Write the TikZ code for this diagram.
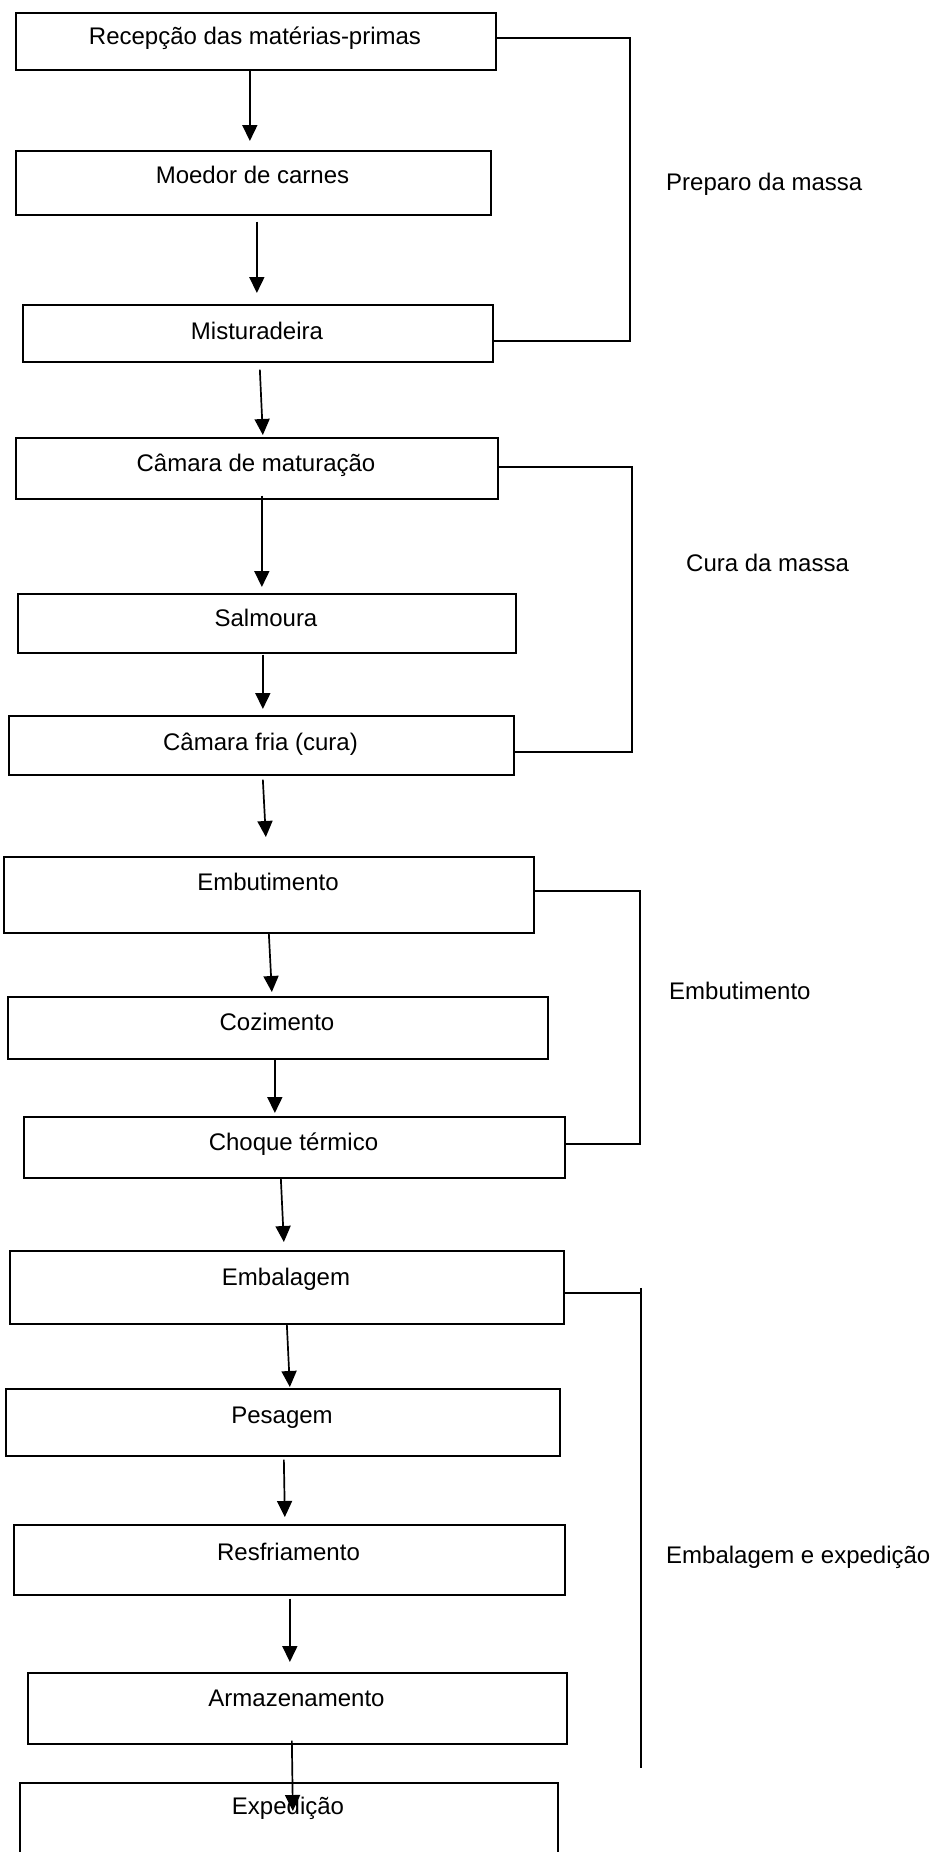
\documentclass[tikz,border=0pt]{standalone}
\usepackage{fontspec}
\setmainfont{Liberation Sans}
\usetikzlibrary{arrows.meta}
\begin{document}
\begin{tikzpicture}[x=1pt,y=-1pt,
  box/.style={draw, line width=1.7pt, anchor=north west, inner sep=0pt, fill=white},
  txt/.style={anchor=base, inner sep=0pt, font=\fontsize{24}{28}\selectfont},
  lbl/.style={anchor=base west, inner sep=0pt, font=\fontsize{24}{28}\selectfont},
  arr/.style={line width=1.7pt, -{Triangle[length=16pt,width=15pt]}},
  brk/.style={line width=1.6pt}]
\useasboundingbox (0,0) rectangle (933,1852);
\clip (0,0) rectangle (933,1852);
% boxes
\node[box, minimum width=480pt, minimum height=57pt] (b1) at (15,12) {};
\node[box, minimum width=475pt, minimum height=64pt] (b2) at (15,150) {};
\node[box, minimum width=470pt, minimum height=57pt] (b3) at (22,304) {};
\node[box, minimum width=482pt, minimum height=61pt] (b4) at (15,437) {};
\node[box, minimum width=498pt, minimum height=59pt] (b5) at (17,593) {};
\node[box, minimum width=505pt, minimum height=59pt] (b6) at (8,715) {};
\node[box, minimum width=530pt, minimum height=76pt] (b7) at (3,856) {};
\node[box, minimum width=540pt, minimum height=62pt] (b8) at (7,996) {};
\node[box, minimum width=541pt, minimum height=61pt] (b9) at (23,1116) {};
\node[box, minimum width=554pt, minimum height=73pt] (b10) at (9,1250) {};
\node[box, minimum width=554pt, minimum height=67pt] (b11) at (5,1388) {};
\node[box, minimum width=551pt, minimum height=70pt] (b12) at (13,1524) {};
\node[box, minimum width=539pt, minimum height=71pt] (b13) at (27,1672) {};
\node[box, minimum width=538pt, minimum height=95pt] (b14) at (19,1782) {};
% texts
\node[txt] (t1) at (255,45) {Recepção das matérias-primas};
\node[txt] (t2) at (252.5,183) {Moedor de carnes};
\node[txt] (t3) at (257,339) {Misturadeira};
\node[txt] (t4) at (256,471) {Câmara de maturação};
\node[txt] (t5) at (266,626) {Salmoura};
\node[txt] (t6) at (260.5,750) {Câmara fria (cura)};
\node[txt] (t7) at (268,890) {Embutimento};
\node[txt] (t8) at (277,1030) {Cozimento};
\node[txt] (t9) at (293.5,1150) {Choque térmico};
\node[txt] (t10) at (286,1285) {Embalagem};
\node[txt] (t11) at (282,1423) {Pesagem};
\node[txt] (t12) at (288.5,1560) {Resfriamento};
\node[txt] (t13) at (296.5,1706) {Armazenamento};
\node[txt] (t14) at (288,1814) {Expedição};
% arrows
\draw[arr] ([xshift=-6]b1.south) -- ([xshift=-3.5,yshift=9]b2.north);
\draw[arr] ([xshift=3.5,yshift=-6]b2.south) -- ([xshift=-1,yshift=11]b3.north);
\draw[arr] ([xshift=2,yshift=-7]b3.south) -- ([xshift=6,yshift=2]b4.north);
\draw[arr] ([xshift=5,yshift=4]b4.south) -- ([xshift=-5,yshift=6]b5.north);
\draw[arr] ([xshift=-4,yshift=-1]b5.south) -- ([xshift=1.5,yshift=6]b6.north);
\draw[arr] ([xshift=1.5,yshift=-4]b6.south) -- ([xshift=-3,yshift=19]b7.north);
\draw[arr] (b7.south) -- ([xshift=-6,yshift=4]b8.north);
\draw[arr] ([xshift=-3]b8.south) -- ([xshift=-19.5,yshift=3]b9.north);
\draw[arr] ([xshift=-13.5]b9.south) -- ([xshift=-3,yshift=8]b10.north);
\draw[arr] (b10.south) -- ([xshift=7,yshift=1]b11.north);
\draw[arr] ([xshift=1,yshift=-3]b11.south) -- ([xshift=-4.5,yshift=7]b12.north);
\draw[arr] ([xshift=0.5,yshift=-3]b12.south) -- ([xshift=-7.5,yshift=10]b13.north);
\draw[arr] ([xshift=-5.5,yshift=4]b13.south) -- ([xshift=4,yshift=-29]b14.north);
% brackets
\draw[brk] ([yshift=3.5]b1.east) -- ++(133,0) |- ([yshift=-7.5]b3.east);
\draw[brk] ([yshift=1.5]b4.east) -- ++(133,0) |- ([yshift=-6.5]b6.east);
\draw[brk] ([yshift=4]b7.east) -- ++(105,0) |- ([yshift=3.5]b9.east);
\draw[brk] ([yshift=-5.5]b10.east) -- ++(76,0) coordinate (k4);
\draw[brk] ([yshift=5]k4) -- ([yshift=-475]k4);
% group labels
\node[lbl] (L1) at (666,190) {Preparo da massa};
\node[lbl] (L2) at (686,571) {Cura da massa};
\node[lbl] (L3) at (669,999) {Embutimento};
\node[lbl] (L4) at (666,1563) {Embalagem e expedição};
\end{tikzpicture}
\end{document}
